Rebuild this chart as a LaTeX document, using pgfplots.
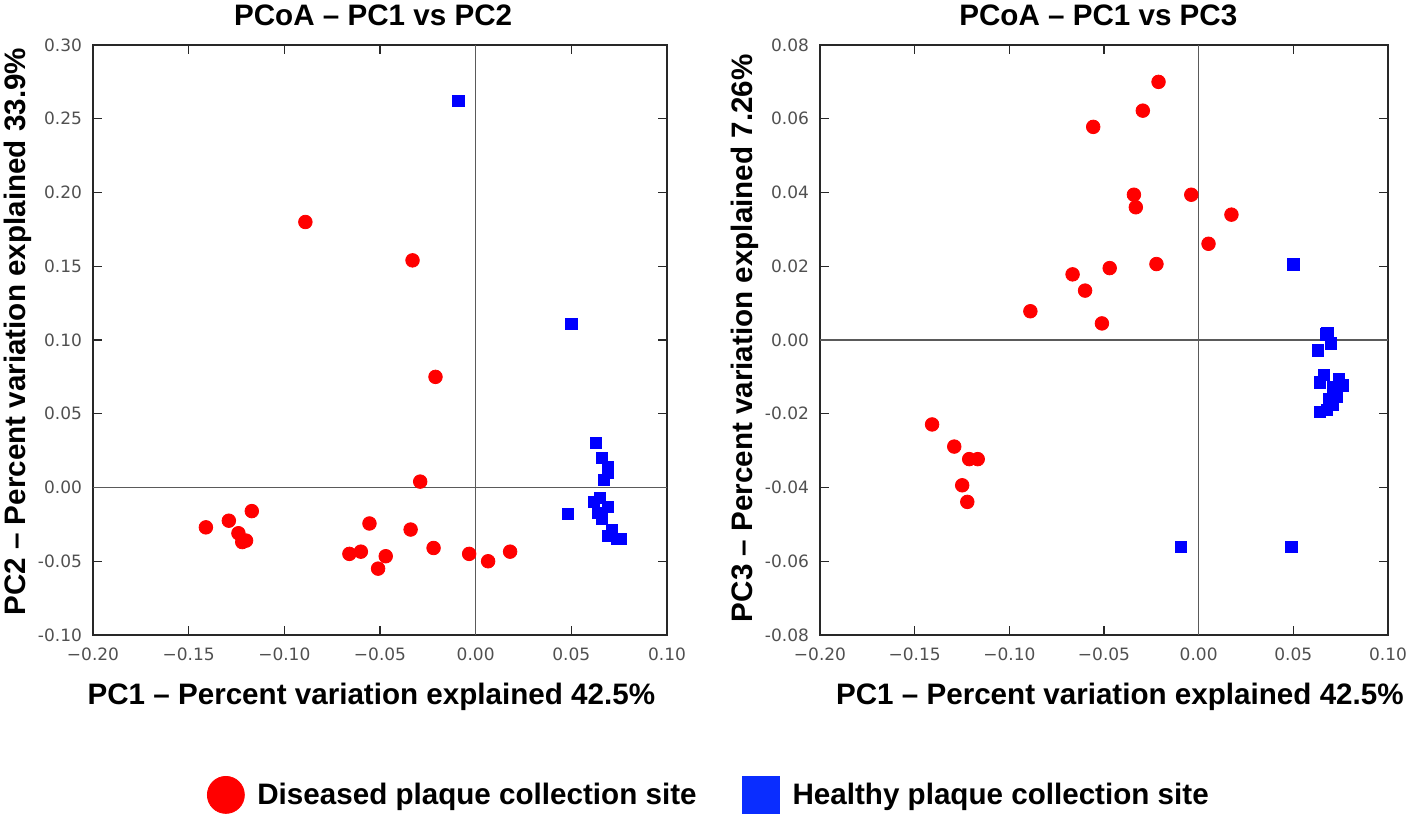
\documentclass[border=0pt]{standalone}
\usepackage{fontspec}
\setmainfont{Liberation Sans}
\newfontfamily\tickfont{DejaVu Sans}
\usepackage{pgfplots}
\pgfplotsset{compat=1.18}
\usepackage{pgfplotstable}

% PC1 vs PC2
\pgfplotstableread{
x y
-0.089 0.180
-0.033 0.154
-0.021 0.075
-0.029 0.004
-0.141 -0.027
-0.129 -0.0225
-0.124 -0.031
-0.122 -0.037
-0.120 -0.036
-0.117 -0.016
-0.066 -0.045
-0.060 -0.0435
-0.0555 -0.0244
-0.047 -0.0466
-0.051 -0.055
-0.034 -0.0285
-0.022 -0.041
-0.0034 -0.045
0.0065 -0.050
0.018 -0.0435
}\redA
\pgfplotstableread{
x y
-0.009 0.262
0.050 0.111
0.048 -0.018
0.063 0.030
0.066 0.020
0.069 0.014
0.069 0.010
0.067 0.005
0.065 -0.007
0.062 -0.010
0.069 -0.013
0.064 -0.017
0.066 -0.021
0.071 -0.029
0.069 -0.033
0.074 -0.035
0.076 -0.035
}\blueA
% PC1 vs PC3
\pgfplotstableread{
x y
-0.0212 0.0700
-0.0295 0.0622
-0.0557 0.0578
-0.0342 0.0394
-0.0039 0.0394
-0.0332 0.0360
0.0173 0.0340
0.0052 0.0261
-0.0223 0.0206
-0.0470 0.0195
-0.0666 0.0178
-0.0600 0.0134
-0.0889 0.0078
-0.0511 0.0045
-0.1408 -0.0229
-0.1291 -0.0289
-0.1212 -0.0323
-0.1167 -0.0323
-0.1249 -0.0394
-0.1222 -0.0439
}\redB
\pgfplotstableread{
x y
0.050 0.0205
-0.0095 -0.0561
0.049 -0.0561
0.068 0.0020
0.067 0.0015
0.070 -0.0009
0.063 -0.0028
0.066 -0.0094
0.064 -0.0115
0.074 -0.0106
0.076 -0.0123
0.071 -0.0128
0.073 -0.0154
0.071 -0.0175
0.064 -0.0196
0.0676 -0.0190
0.069 -0.0160
}\blueB

\definecolor{axgray}{RGB}{40,40,40}
\definecolor{tickgray}{RGB}{80,80,80}
\definecolor{zerogray}{RGB}{90,90,90}
\definecolor{lgblue}{RGB}{10,45,255}

\pgfplotsset{
  pcoa/.style={
    scale only axis, width=287pt, height=295pt,
    xmin=-0.2, xmax=0.1,
    scaled ticks=false,
    xtick={-0.2,-0.15,-0.1,-0.05,0,0.05,0.1},
    xticklabels={−0.20,−0.15,−0.10,−0.05,0.00,0.05,0.10},
    axis line style={axgray, line width=0.7pt},
    major tick style={axgray, line width=0.7pt},
    major tick length=4.5pt,
    tick align=inside,
    tick label style={font=\tickfont\fontsize{8.5}{10}\selectfont, text=tickgray},
    xticklabel style={yshift=-3pt},
    yticklabel style={xshift=-2pt},
    label style={font=\bfseries\fontsize{14.8}{17}\selectfont},
    title style={font=\bfseries\fontsize{14.8}{17}\selectfont},
    legend image code/.code={\draw[##1] plot coordinates {(9.25pt,0pt)};},
  },
  redpts/.style={only marks, mark=*, mark size=3.4pt, red, mark options={draw=red, fill=red}},
  bluepts/.style={only marks, mark=square*, mark size=2.8pt, blue, mark options={draw=blue, fill=blue}},
}

\begin{document}
\begin{tikzpicture}
\path[use as bounding box] (-46.5pt,-90pt) rectangle (662.5pt,317.5pt);
\begin{axis}[pcoa,
  ymin=-0.1, ymax=0.3,
  ytick={-0.1,-0.05,0,0.05,0.1,0.15,0.2,0.25,0.3},
  yticklabels={-0.10,-0.05,0.00,0.05,0.10,0.15,0.20,0.25,0.30},
  title={PCoA – PC1 vs PC2},
  title style={at={(axis description cs:0.488,1.030)}, anchor=center},
  xlabel={PC1 – Percent variation explained 42.5\%},
  xlabel style={at={(axis description cs:0.485,-0.105)}, anchor=center},
  ylabel={PC2 – Percent variation explained 33.9\%},
  ylabel style={at={(axis description cs:-0.131,0.514)}, anchor=center},
  legend columns=2,
  legend cell align=left,
  legend style={draw=none, fill=none, at={(axis description cs:1.075,-0.271)}, anchor=center,
    font=\bfseries\fontsize{14.8}{17}\selectfont,
    /tikz/every odd column/.append style={column sep=4.5pt},
    /tikz/every even column/.append style={column sep=21pt}},
]
\addplot[zerogray, line width=0.7pt, forget plot] coordinates {(0,-0.1) (0,0.3)};
\addplot[zerogray, line width=0.7pt, forget plot] coordinates {(-0.2,0) (0.1,0)};
\addplot[redpts, forget plot] table[x=x, y=y] {\redA};
\addplot[bluepts, forget plot] table[x=x, y=y] {\blueA};
\addlegendimage{mark=*, red, mark size=9.25pt}
\addlegendimage{mark=square*, lgblue, mark size=9.25pt}
\legend{Diseased plaque collection site, Healthy plaque collection site}
\end{axis}

\begin{axis}[pcoa, at={(363.5pt,0pt)}, anchor=south west, width=284pt,
  ymin=-0.08, ymax=0.08,
  ytick={-0.08,-0.06,-0.04,-0.02,0,0.02,0.04,0.06,0.08},
  yticklabels={-0.08,-0.06,-0.04,-0.02,0.00,0.02,0.04,0.06,0.08},
  title={PCoA – PC1 vs PC3},
  title style={at={(axis description cs:0.49,1.030)}, anchor=center},
  xlabel={PC1 – Percent variation explained 42.5\%},
  xlabel style={at={(axis description cs:0.528,-0.105)}, anchor=center},
  ylabel={PC3 – Percent variation explained 7.26\%},
  ylabel style={at={(axis description cs:-0.132,0.503)}, anchor=center},
]
\addplot[zerogray, line width=0.7pt, forget plot] coordinates {(0,-0.08) (0,0.08)};
\addplot[zerogray, line width=0.7pt, forget plot] coordinates {(-0.2,0) (0.1,0)};
\addplot[redpts] table[x=x, y=y] {\redB};
\addplot[bluepts] table[x=x, y=y] {\blueB};
\end{axis}
\end{tikzpicture}
\end{document}
